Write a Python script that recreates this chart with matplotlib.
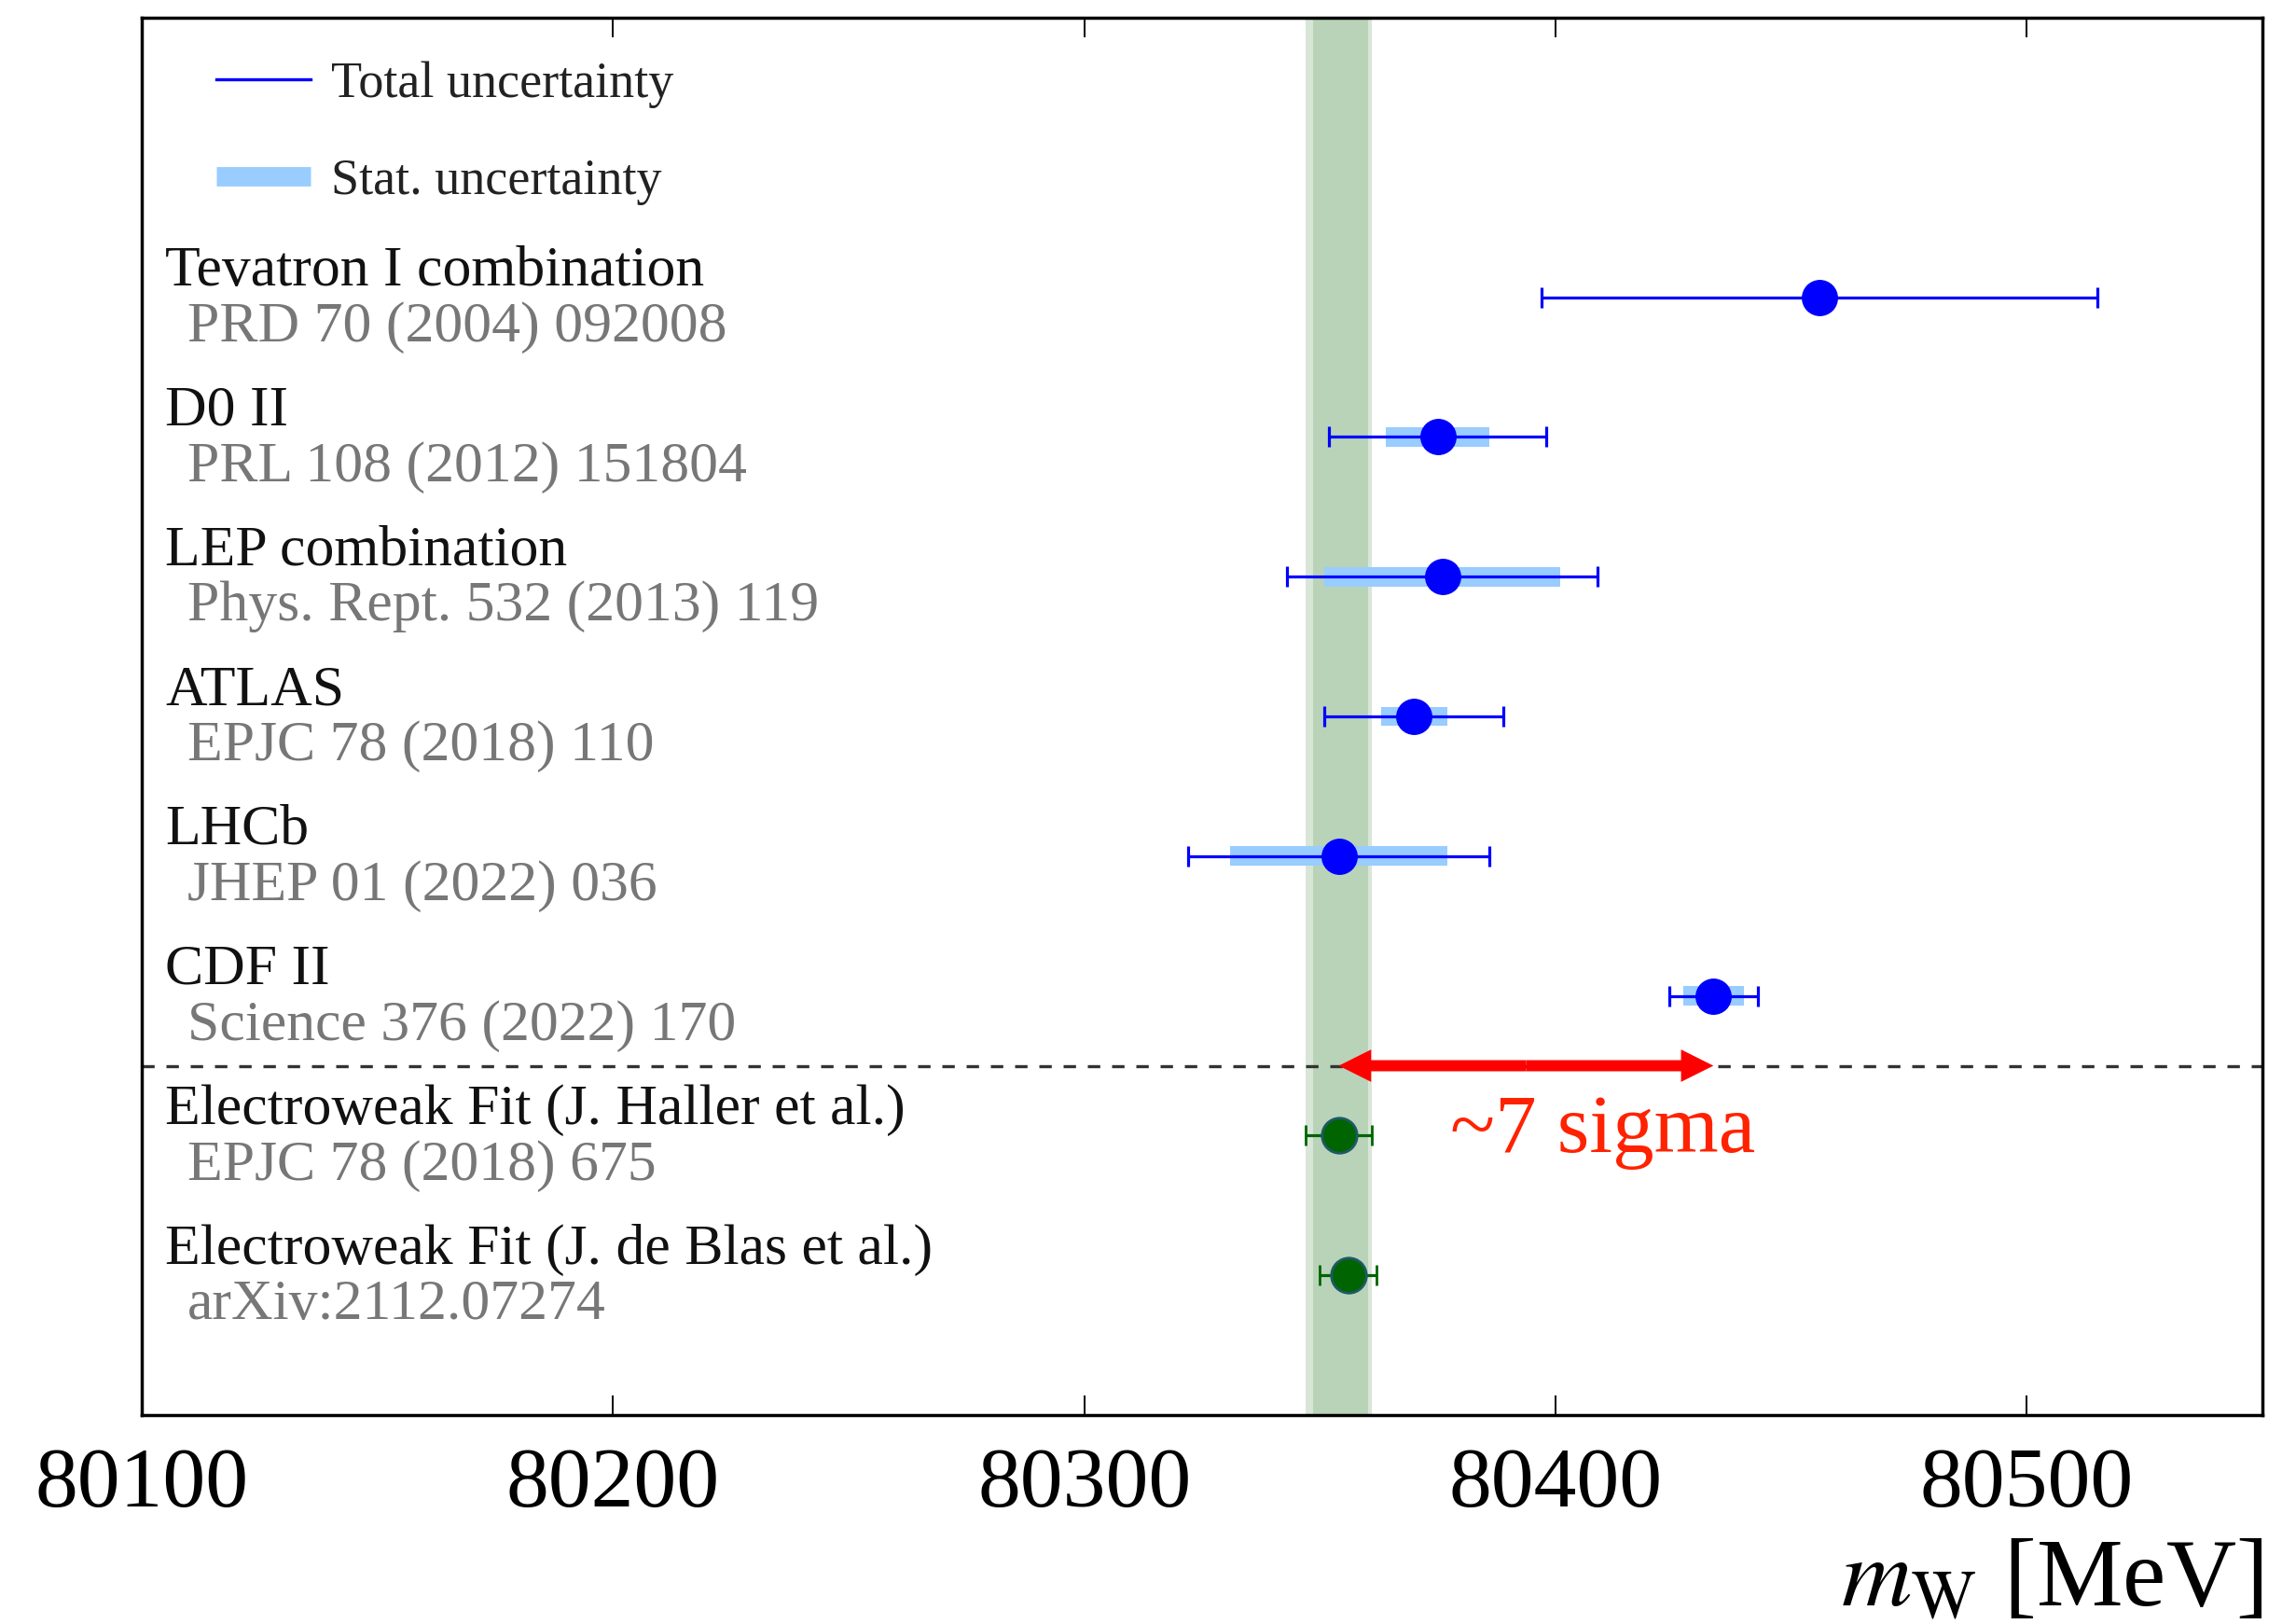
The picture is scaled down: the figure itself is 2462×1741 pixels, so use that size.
import numpy as np
import matplotlib
matplotlib.use('Agg')
import matplotlib.pyplot as plt
from matplotlib.lines import Line2D

plt.rcParams['font.family'] = ['Liberation Serif', 'DejaVu Serif']
plt.rcParams['mathtext.fontset'] = 'stix'

# W mass measurements and fits
labels = ['Tevatron I combination', 'D0 II', 'LEP combination', 'ATLAS', 'LHCb', 'CDF II',
          'Electroweak Fit (J. Haller et al.)', 'Electroweak Fit (J. de Blas et al.)']
refs = ['PRD 70 (2004) 092008', 'PRL 108 (2012) 151804', 'Phys. Rept. 532 (2013) 119',
        'EPJC 78 (2018) 110', 'JHEP 01 (2022) 036', 'Science 376 (2022) 170',
        'EPJC 78 (2018) 675', 'arXiv:2112.07274']
mw = [80456, 80375, 80376, 80370, 80354, 80433.5, 80354, 80356]
tot_unc = [59, 23, 33, 19, 32, 9.4, 7, 6]
stat_unc = [0, 11, 25, 7, 23, 6.4, 0, 0]
is_fit = [False, False, False, False, False, False, True, True]

band_center, band_halfwidth = 80354, 7
xticks = [80100, 80200, 80300, 80400, 80500]

W, H = 2462, 1741
fig = plt.figure(figsize=(W / 100, H / 100), dpi=100)
ax = fig.add_axes([152 / W, 1 - 1517 / H, (2426 - 152) / W, (1517 - 19) / H])

ypos = np.arange(len(labels)) + 2
mw = np.array(mw)
tot_unc = np.array(tot_unc)
stat_unc = np.array(stat_unc)
is_fit = np.array(is_fit)

# electroweak fit band
ax.axvspan(band_center - band_halfwidth, band_center + band_halfwidth,
           color='#d8e6d8', lw=0, zorder=0)
ax.axvspan(band_center - band_halfwidth + 1.6, band_center + band_halfwidth - 0.8,
           color='#b9d3b8', lw=0, zorder=0.5)

# stat uncertainty bars
has_stat = stat_unc > 0
ax.barh(ypos[has_stat], 2 * stat_unc[has_stat], left=mw[has_stat] - stat_unc[has_stat],
        height=0.14, color='#99ccff', zorder=2)

meas = ~is_fit
ax.errorbar(mw[meas], ypos[meas], xerr=tot_unc[meas], fmt='o', color='#0000ff',
            ms=27, elinewidth=2.3, capsize=8, capthick=2.3, zorder=3)
ax.errorbar(mw[is_fit], ypos[is_fit], xerr=tot_unc[is_fit], fmt='o', color='#006400',
            mfc='#006400', mec='#1d5a64', mew=2, ms=27, elinewidth=2.3, capsize=8,
            capthick=2.3, zorder=3)

# separator between measurements and fits
ax.axhline(7.5, color='#333333', lw=2.4, ls=(0, (4, 3.8)), zorder=1)

# CDF II tension arrow (two heads drawn from the middle outwards)
mid = (mw[5] + mw[6]) / 2
for end in (mw[5], mw[6]):
    ax.annotate('', xy=(end, 7.5), xytext=(mid, 7.5),
                arrowprops=dict(arrowstyle='simple,head_length=2.5,head_width=2.5,tail_width=0.86',
                                mutation_scale=10, color='#ff0000', lw=0,
                                shrinkA=0, shrinkB=0), zorder=4)
ax.text(80410, 8.12, '~7 sigma', color='#ff2200', fontsize=64, ha='center', va='baseline')

# entry labels
trans = ax.get_yaxis_transform()
for y, lab, ref in zip(ypos, labels, refs):
    ax.text(0.011, y - 0.185, lab, transform=trans, fontsize=44.5, color='#111111',
            ha='left', va='center')
    ax.text(0.0215, y + 0.215, ref, transform=trans, fontsize=44.5, color='#777777',
            ha='left', va='center')

# legend
handles = [Line2D([], [], color='#0000ff', lw=2.4),
           Line2D([], [], color='#99ccff', lw=15, solid_capstyle='butt')]
ax.legend(handles, ['Total uncertainty', 'Stat. uncertainty'], loc='upper left',
          bbox_to_anchor=(0.0352, 0.969), frameon=False, fontsize=39, borderpad=0,
          borderaxespad=0, handlelength=1.86, handletextpad=0.41, labelspacing=0.98,
          labelcolor='#222222')

ax.set_xlim(80100, 80550)
ax.set_ylim(10, 0)
ax.set_xticks(xticks)
ax.set_xticklabels([str(t) for t in xticks])
ax.set_yticks([])
ax.tick_params(axis='x', direction='in', top=True, length=15, width=1.4, labelsize=66, pad=25)
for s in ax.spines.values():
    s.set_linewidth(2.5)
ax.set_xlabel(r'$m_{\mathrm{W}}$ [MeV]', fontsize=75, loc='right', labelpad=12)

plt.savefig('out.png', dpi=100)
